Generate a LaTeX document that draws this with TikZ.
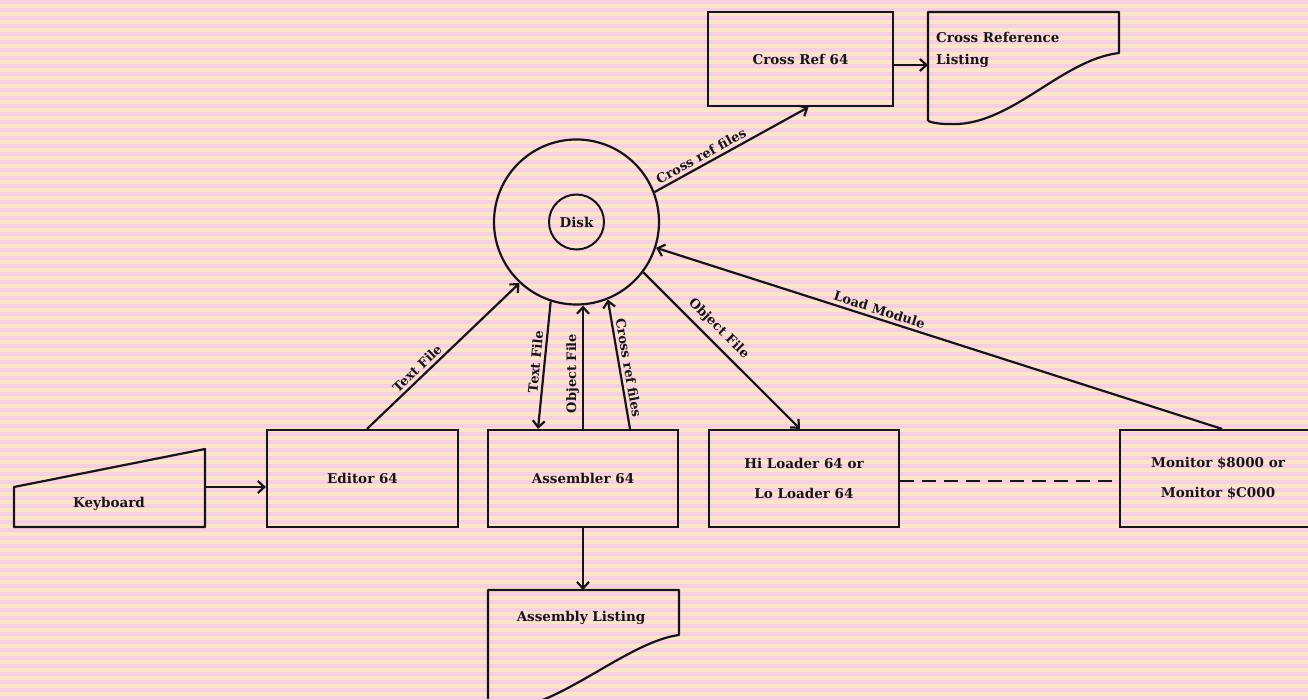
\documentclass[tikz,border=0pt]{standalone}
\usepackage{fontspec}
\setmainfont{DejaVu Serif}
\usetikzlibrary{arrows.meta}
\definecolor{bgyellow}{RGB}{251,230,204}
\definecolor{bgpink}{RGB}{247,208,224}
\definecolor{ink}{RGB}{25,20,25}
\begin{document}
\begin{tikzpicture}[x=1pt,y=-1pt,
  every node/.style={font=\bfseries\fontsize{13.5}{15}\selectfont, text=ink},
  box/.style={draw=ink, line width=2.2pt, inner sep=0pt, minimum height=97pt, align=center},
  twoline/.style={font=\bfseries\fontsize{13.5}{30}\selectfont},
  docline/.style={draw=ink, line width=2.2pt, line join=round},
  flow/.style={draw=ink, line width=2.2pt, -{Straight Barb[length=6.5pt,width=12pt]}},
  plain/.style={draw=ink, line width=2.2pt},
  lbl/.style={font=\bfseries\fontsize{13}{14}\selectfont, sloped, above, inner sep=3pt}]
% background
\fill[bgyellow] (0,0) rectangle (1308,698);
\foreach \y in {0,8,...,696} \fill[bgpink] (0,\y) rectangle (1308,\y+4);
\useasboundingbox (0,0) rectangle (1308,698);
\clip (0,0) rectangle (1308,698);

% boxes
\node[box, minimum width=185pt, minimum height=94pt] (crossref) at (800.5,59) {Cross Ref 64};
\node[box, minimum width=191pt] (editor) at (362.5,478.5) {Editor 64};
\node[box, minimum width=190pt] (assembler) at (583,478.5) {Assembler 64};
\node[box, minimum width=190pt, twoline] (hiloader) at (804,478.5) {Hi Loader 64 or\\Lo Loader 64};
\node[box, minimum width=196pt, twoline] (monitor) at (1218,478.5) {Monitor \$8000 or\\Monitor \$C000};

% disk
\node[circle, draw=ink, line width=2.2pt, minimum size=165pt, inner sep=0pt] (disk) at (576.5,222) {};
\node[circle, draw=ink, line width=2pt, minimum size=55pt, inner sep=0pt] (diskin) at (576.5,222) {Disk};

% cross reference listing document
\draw[docline] (928,121) -- (928,12) -- (1119,12) -- (1119,53)
  .. controls (1060,60) and (1010,128) .. (948,124)
  .. controls (940,124) and (933,123) .. (928,121);
\coordinate (listin) at (928,65);
\node[anchor=west, align=left, inner sep=0pt, font=\bfseries\fontsize{13.5}{22}\selectfont] (crlisttext) at (936,50) {Cross Reference\\Listing};

% keyboard
\draw[docline] (14,487) -- (205,449) -- (205,527) -- (14,527) -- cycle;
\node (keyboard) at (109,504) {Keyboard};
\coordinate (kbout) at (205,487);

% assembly listing document
\draw[docline] (488,720) -- (488,590) -- (679,590) -- (679,635)
  .. controls (640,640) and (590,680) .. (545,699)
  .. controls (530,705) and (505,712) .. (488,714);
\node (asmlist) at (581,618) {Assembly Listing};
\coordinate (asmtop) at (583,590);

% connectors
\draw[flow] ([yshift=-6pt]crossref.east) -- (listin);
\draw[flow] (kbout) -- (kbout -| editor.west);
\draw[flow] (assembler.south) -- (asmtop);
\draw[flow] (disk.21) -- node[lbl, pos=0.33] {Cross ref files} ([xshift=8pt]crossref.south);
\draw[flow] ([xshift=4.5pt]editor.north) -- node[lbl, pos=0.37] {Text File} (disk.227);
\draw[flow] (disk.252) -- node[lbl, pos=0.48] {Text File} ([xshift=-45pt]assembler.north);
\draw[flow] (assembler.north) -- node[lbl, pos=0.45] {Object File} (assembler.north |- disk.south);
\draw[flow] ([xshift=47pt]assembler.north) -- node[lbl, pos=0.46] {Cross ref files} (disk.292);
\draw[flow] (disk.-37) -- node[lbl, pos=0.42, inner sep=6pt] {Object File} ([xshift=-4pt]hiloader.north);
\draw[flow] ([xshift=4pt]monitor.north) -- node[lbl, pos=0.61] {Load Module} (disk.-18);
\draw[plain, dash pattern=on 14pt off 8pt] ([yshift=-2.5pt]hiloader.east) -- ([yshift=-2.5pt]monitor.west);
\end{tikzpicture}
\end{document}
